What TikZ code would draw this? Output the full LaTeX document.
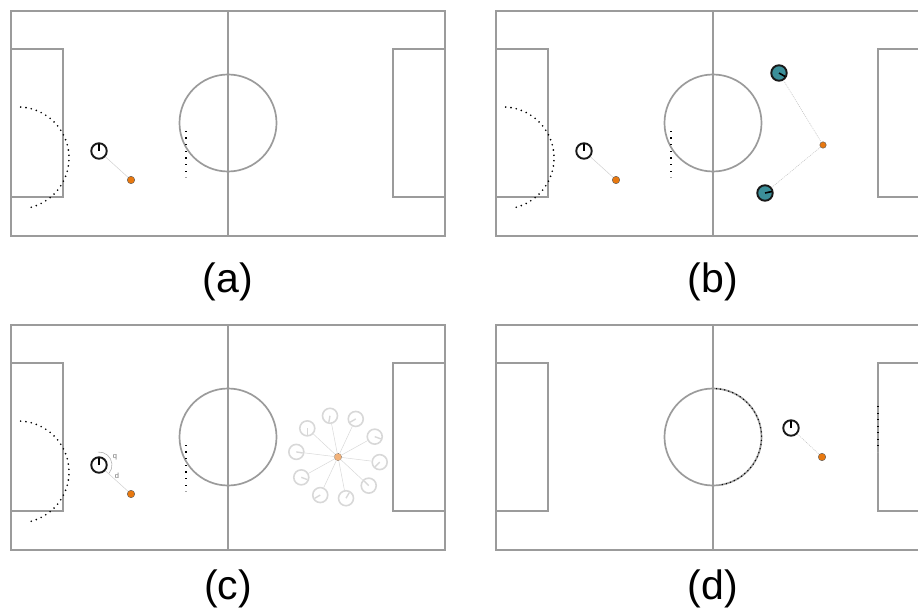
\documentclass[tikz,border=0pt]{standalone}
\usepackage{fontspec}
\setmainfont{Liberation Sans}
\usetikzlibrary{calc,positioning}
\definecolor{clPitch}{HTML}{9B9B9B}
\definecolor{clBall}{HTML}{E8780F}
\definecolor{clRival}{HTML}{3B8F99}
\definecolor{clGhost}{HTML}{D8D8D8}
\definecolor{clGhostBall}{HTML}{F2B27A}
\tikzset{
  pitch/.style={draw=clPitch, line width=1.7pt},
  robot/.style={circle, draw=black!90, line width=1.9pt, minimum size=15.5pt, inner sep=0pt},
  rival/.style={robot, fill=clRival},
  ghost/.style={robot, draw=clGhost, line width=1.6pt, minimum size=15pt},
  ball/.style={circle, draw=black!65, fill=clBall, line width=0.4pt,
               minimum size=7.5pt, inner sep=0pt},
  ghostball/.style={ball, fill=clGhostBall, draw=black!60, dash pattern=on 0.8pt off 0.8pt},
  link/.style={draw=black!18, line width=0.5pt},
  dotlink/.style={draw=black!25, line width=0.5pt, dash pattern=on 1pt off 1pt},
  heading/.style={draw=black, line width=1.6pt},
  trace/.style={fill=black},
  caption/.style={font=\fontsize{41}{45}\selectfont, inner sep=0pt, anchor=base},
  tag/.style={font=\fontsize{7.5}{8}\selectfont, text=black!55, inner sep=0pt},
}

\begin{document}
\begin{tikzpicture}[x=1pt, y=-1pt]
  \useasboundingbox (0,0) rectangle (918,612);
  \clip (0,0) rectangle (918,612);

  % the four pitches
  \foreach \px/\py in {11/11, 496/11, 11/325, 496/325} {
    \begin{scope}[shift={(\px,\py)}]
      \draw[pitch] (0,0) rectangle (434,225);
      \draw[pitch] (217,0) -- (217,225);
      \draw[pitch] (217,112) circle[radius=48.5];
      \draw[pitch] (0,38) rectangle (52,186);
      \draw[pitch] (434,38) rectangle (382,186);
    \end{scope}
  }

  % robot, ball and traces shared by (a), (b), (c)
  \foreach \px/\py/\n in {11/11/a, 496/11/b, 11/325/c} {
    \begin{scope}[shift={(\px,\py)}]
      \foreach \t in {-87,-81,...,75}
        \fill[trace] ($(7,147)+(\t:51)$) circle[radius=0.9];
      \foreach \k in {0,...,6}
        \fill[trace] (174,119.7+6.67*\k) rectangle ++(2.4,1.4);
      \fill[black!35] (174,165.7) rectangle ++(2.4,0.9);
      \node[robot] (r\n) at (88,140) {};
      \node[ball] (b\n) at (120,169) {};
      \draw[link] (r\n) -- (b\n);
      \draw[heading] (r\n.center) -- ++(-90:7);
    \end{scope}
  }

  % (b) opponents
  \node[rival] (t1) at (779,73) {};
  \node[rival] (t2) at (765,193) {};
  \node[ball, minimum size=6.5pt] (b2) at (823,145) {};
  \draw[dotlink] (t1) -- (b2);
  \draw[dotlink] (t2) -- (b2);
  \draw[heading] (t1.center) -- ++(30:7);
  \draw[heading] (t2.center) -- ++(-12:7);

  % (c) angle, distance and sampled poses
  \draw[black!30, line width=0.6pt] (rc.center) ++(-95:13) arc[start angle=-95, end angle=40, radius=13];
  \node[tag] (tq) at (115,457) {q};
  \node[tag] (td) at (117,476) {d};
  \node[ghostball] (gb) at (338,457) {};
  \foreach \a/\h [count=\i] in {7/135, 43/225, 79/-60, 115/150, 151/20,
                                187/10, 223/90, 259/100, 295/150, 331/20} {
    \node[ghost] (g\i) at ($(gb)+(\a:42)$) {};
    \draw[link, draw=clGhost] (gb) -- (g\i);
    \draw[heading, draw=clGhost, line width=1.4pt] (g\i.center) -- ++(\h:6.5);
  }

  % (d)
  \foreach \t in {-86,-81,...,80}
    \fill[trace] ($(713,437)+(\t:48.5)$) circle[radius=0.75];
  \foreach \k in {0,...,6}
    \fill[trace] (876.8,406+6.5*\k) rectangle ++(2.4,1.4);
  \fill[black!35] (876.8,451.5) rectangle ++(2.4,0.9);
  \node[robot] (rd) at (791,428) {};
  \node[ball] (bd) at (822,457) {};
  \draw[dotlink] (rd) -- (bd);
  \draw[heading] (rd.center) -- ++(-90:7);

  % captions
  \node[caption] (capa) at (228,293) {(a)};
  \node[caption] (capb) at (713,293) {(b)};
  \node[caption] (capc) at (228,599) {(c)};
  \node[caption] (capd) at (713,599) {(d)};
\end{tikzpicture}
\end{document}
